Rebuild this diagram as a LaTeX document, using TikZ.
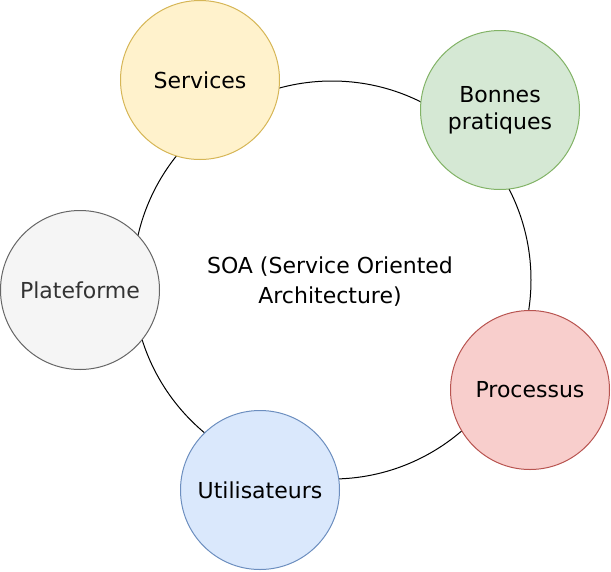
\documentclass[tikz,border=0pt]{standalone}
\usepackage{fontspec}
\setmainfont{DejaVu Sans}
\usetikzlibrary{shapes.geometric}
\definecolor{yfill}{HTML}{FFF2CC}\definecolor{ydraw}{HTML}{D6B656}
\definecolor{gfill}{HTML}{D5E8D4}\definecolor{gdraw}{HTML}{82B366}
\definecolor{wfill}{HTML}{F5F5F5}\definecolor{wdraw}{HTML}{666666}\definecolor{wtext}{HTML}{333333}
\definecolor{rfill}{HTML}{F8CECC}\definecolor{rdraw}{HTML}{B85450}
\definecolor{bfill}{HTML}{DAE8FC}\definecolor{bdraw}{HTML}{6C8EBF}
\tikzset{
  small/.style={circle, minimum size=159pt, inner sep=0pt, line width=1pt, align=center,
    font=\fontsize{22}{27}\selectfont},
  big/.style={circle, draw=black, minimum size=398pt, inner sep=0pt, line width=1pt}
}
\begin{document}
\begin{tikzpicture}[x=1pt,y=-1pt]
\useasboundingbox (0,0) rectangle (611,571);
\node[big] (bigc) at (332,280) {};
\node[align=center, font=\fontsize{22}{30}\selectfont] (soa) at (330,282) {SOA (Service Oriented\\Architecture)};
\node[small, fill=yfill, draw=ydraw] (services) at (200,80) {Services};
\node[small, fill=gfill, draw=gdraw] (bonnes) at (500,110) {Bonnes\\pratiques};
\node[small, fill=wfill, draw=wdraw, text=wtext] (plat) at (80,290) {Plateforme};
\node[small, fill=rfill, draw=rdraw] (proc) at (530,390) {Processus};
\node[small, fill=bfill, draw=bdraw] (util) at (260,490) {Utilisateurs};
\end{tikzpicture}
\end{document}
